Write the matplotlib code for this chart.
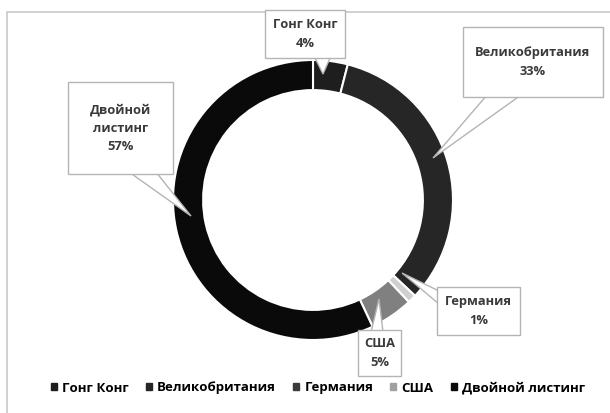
import matplotlib
matplotlib.use('Agg')
import matplotlib.pyplot as plt
from matplotlib.patches import Rectangle, Polygon

plt.rcParams['font.family'] = ['Open Sans', 'DejaVu Sans']

# shares of listings by market
labels = ['Гонг Конг', 'Великобритания', 'Германия', 'США', 'Двойной листинг']
box_labels = ['Гонг Конг', 'Великобритания', 'Германия', 'США', 'Двойной\nлистинг']
shares = [4, 33, 1, 5, 57]
colors = ['#1e1e1e', '#262626', '#d0d0d0', '#808080', '#0a0a0a']
legend_colors = ['#1e1e1e', '#262626', '#3a3a3a', '#a0a0a0', '#0a0a0a']

W, H = 610, 413
fig = plt.figure(figsize=(W / 100, H / 100), dpi=100)


def fp(x, y):
    # pixel (from top-left) -> figure fraction
    return x / W, 1 - y / H


fig.add_artist(Rectangle(fp(7, 420), 620 / W, 408 / H, transform=fig.transFigure,
                         fill=False, ec='#c8c8c8', lw=1.2, zorder=0.5))

cx, cy, r = 313, 200, 140
ax = fig.add_axes([(cx - r) / W, (H - cy - r) / H, 2 * r / W, 2 * r / H])
wedges, _ = ax.pie(shares, colors=colors, startangle=90, counterclock=False,
                   wedgeprops=dict(width=0.215, edgecolor='white', linewidth=1.5))
ax.set_xlim(-1, 1)
ax.set_ylim(-1, 1)

# callout boxes (left, top, right, bottom) and pointer (base1, base2, tip) in pixels
boxes = [(265, 10, 345, 58), (463, 27, 603, 97), (437, 287, 520, 335),
         (358, 330, 401, 376), (68, 82, 173, 174)]
pointers = [((314, 56), (331, 56), (323, 74)),
            ((487, 95), (521, 95), (433, 158)),
            ((439, 291), (439, 304), (402, 273)),
            ((371, 332), (383, 332), (379, 299)),
            ((129, 172), (156, 172), (191, 216))]

for lab, val, (x0, y0, x1, y1), ptr in zip(box_labels, shares, boxes, pointers):
    fig.add_artist(Polygon([fp(*p) for p in ptr], closed=True, transform=fig.transFigure,
                           fc='white', ec='#b4b4b4', lw=1, zorder=2))
    fig.add_artist(Rectangle(fp(x0, y1), (x1 - x0) / W, (y1 - y0) / H,
                             transform=fig.transFigure, fc='white', ec='#b4b4b4', lw=1, zorder=3))
    tx, ty = fp((x0 + x1) / 2, (y0 + y1) / 2)
    fig.text(tx, ty, f'{lab}\n{val}%', ha='center', va='center', fontsize=9.3,
             fontweight='bold', color='#3a3a3a', linespacing=1.55, zorder=4)

handles = [plt.Rectangle((0, 0), 1, 1, color=c) for c in legend_colors]
fig.legend(handles, labels, loc='center', bbox_to_anchor=fp(318, 388), ncol=5,
           frameon=False, handlelength=0.45, handleheight=0.45,
           handletextpad=0.4, columnspacing=1.3, prop=dict(weight='bold', size=9.5))

fig.savefig('out.png', dpi=100, facecolor='white')
